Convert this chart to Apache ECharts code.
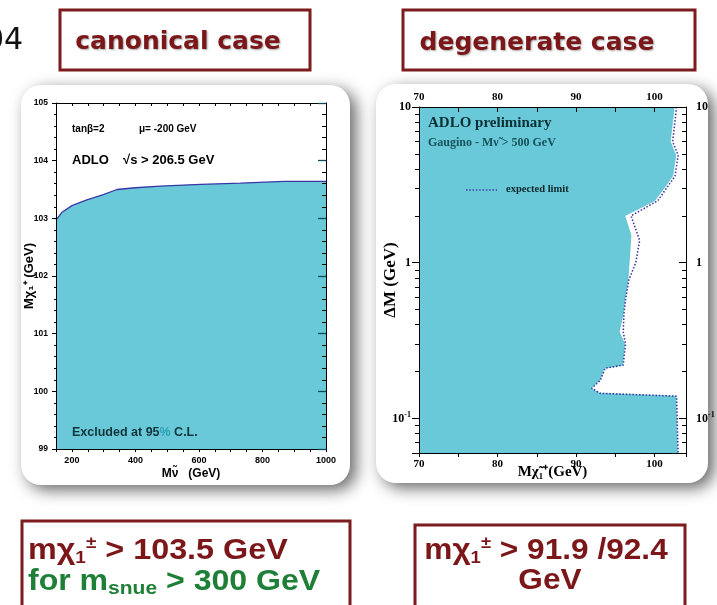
<!DOCTYPE html>
<html><head><meta charset="utf-8">
<script src="https://cdn.jsdelivr.net/npm/echarts@6/dist/echarts.min.js"></script>
<style>html,body{margin:0;padding:0;background:#fff;overflow:hidden}#c{width:717px;height:605px}</style>
</head><body><div id="c"></div>
<script>
// ---- canonical case: chargino mass limit vs sneutrino mass ----
const sneutrinoMass = [150, 168, 200, 247, 299, 342, 400, 478, 605, 731, 868, 1000];
const charginoLimit = [102.97, 103.10, 103.22, 103.32, 103.41, 103.50, 103.53, 103.56, 103.59, 103.61, 103.64, 103.64];
// ---- degenerate case: ΔM vs chargino mass ----
const deltaMObs = [10, 6.0, 4.9, 3.6, 3.1, 2.5, 2.0, 1.5, 0.77, 0.58, 0.47, 0.36, 0.30, 0.22, 0.21, 0.176, 0.156, 0.145, 0.139, 0.06];
const massObs   = [102.5, 102.0, 102.7, 102.3, 101.4, 100.0, 96.2, 97.0, 96.6, 96.2, 96.0, 95.5, 96.2, 95.9, 93.6, 93.0, 91.9, 93.0, 102.7, 102.9];
const deltaMExp = [10, 6.0, 4.9, 3.6, 3.1, 2.5, 2.0, 1.39, 1.0, 0.77, 0.58, 0.47, 0.36, 0.30, 0.22, 0.21, 0.176, 0.156, 0.145, 0.139, 0.06];
const massExp   = [102.8, 102.3, 103.0, 102.6, 101.7, 100.4, 97.0, 98.1, 97.6, 96.7, 96.3, 96.1, 96.0, 96.3, 96.0, 93.7, 93.1, 92.0, 93.1, 102.8, 103.0];
const leftXTicks = [200, 400, 600, 800, 1000];
const rightXTicks = [70, 80, 90, 100];

const FILL = '#69c9d9';
const MAROON = '#7b1719';
const GREEN = '#1e7f36';
const BOXFONT = 'bold 29px Liberation Sans';

const chart = echarts.init(document.getElementById('c'), null, {renderer: 'canvas'});

const sansB = {fontFamily: 'Liberation Sans, Arial', fontWeight: 'bold', color: '#000'};
const serifB = {fontFamily: 'Liberation Serif, Times New Roman', fontWeight: 'bold', color: '#000'};

function logLabel(v) {
  const l = Math.log10(v), e = Math.round(l);
  if (Math.abs(l - e) > 1e-6) return '';
  if (e < 0) return '{b|10}{s|' + e + '}';
  return '{b|' + Math.round(Math.pow(10, e)) + '}';
}
const logRich = {
  b: Object.assign({fontSize: 12}, serifB),
  s: Object.assign({fontSize: 8, verticalAlign: 'top', padding: [0, 0, 8, 0]}, serifB)
};

const obsPairs = massObs.map((m, i) => [m, deltaMObs[i]]);
const expPairs = massExp.map((m, i) => [m, deltaMExp[i]]);

const option = {
  animation: false,
  backgroundColor: '#fff',
  grid: [
    {left: 56, top: 103, width: 270, height: 346, outerBoundsMode: 'none', containLabel: false},
    {left: 419, top: 107, width: 267, height: 346, outerBoundsMode: 'none', containLabel: false}
  ],
  xAxis: [
    {gridIndex: 0, zlevel: 1, type: 'value', min: 150, max: 1000, interval: 50, position: 'bottom',
      axisLine: {lineStyle: {color: '#000', width: 1}},
      axisTick: {length: 3, lineStyle: {color: '#000'}},
      axisLabel: Object.assign({fontSize: 9, margin: 7, formatter: v => leftXTicks.includes(v) ? String(v) : ''}, sansB),
      splitLine: {show: false},
      name: 'M\u03BD\u0303   (GeV)', nameLocation: 'middle', nameGap: 19, nameMoveOverlap: false,
      nameTextStyle: Object.assign({fontSize: 12}, sansB)},
    {gridIndex: 0, zlevel: 1, type: 'value', min: 150, max: 1000, interval: 50, position: 'top',
      axisLine: {lineStyle: {color: '#000'}}, axisTick: {inside: true, length: 3, lineStyle: {color: '#000'}},
      axisLabel: {show: false}, splitLine: {show: false}},
    {gridIndex: 1, zlevel: 1, type: 'value', min: 70, max: 104, interval: 5, position: 'bottom',
      axisLine: {lineStyle: {color: '#000'}}, axisTick: {length: 4, lineStyle: {color: '#000'}},
      axisLabel: Object.assign({fontSize: 11, margin: 6, formatter: v => rightXTicks.includes(v) ? String(v) : ''}, serifB),
      splitLine: {show: false},
      name: 'M\u03C7\u0303\u2081\u207A(GeV)', nameLocation: 'middle', nameGap: 12, nameMoveOverlap: false,
      nameTextStyle: Object.assign({fontSize: 15}, serifB)},
    {gridIndex: 1, zlevel: 1, type: 'value', min: 70, max: 104, interval: 5, position: 'top',
      axisLine: {lineStyle: {color: '#000'}}, axisTick: {inside: true, length: 5, lineStyle: {color: '#000'}},
      axisLabel: Object.assign({fontSize: 11, margin: 4, formatter: v => rightXTicks.includes(v) ? String(v) : ''}, serifB),
      splitLine: {show: false}}
  ],
  yAxis: [
    {gridIndex: 0, zlevel: 1, type: 'value', min: 99, max: 105, interval: 1, position: 'left',
      axisLine: {show: true, lineStyle: {color: '#000'}},
      axisTick: {length: 4, lineStyle: {color: '#000'}},
      minorTick: {show: true, splitNumber: 5, length: 2, lineStyle: {color: '#000'}},
      axisLabel: Object.assign({fontSize: 8.5, margin: 8}, sansB),
      splitLine: {show: false},
      name: 'M\u03C7\u2081\u207A (GeV)', nameLocation: 'middle', nameGap: 20, nameRotate: 90, nameMoveOverlap: false,
      nameTextStyle: Object.assign({fontSize: 13}, sansB)},
    {gridIndex: 0, zlevel: 1, type: 'value', min: 99, max: 105, interval: 1, position: 'right',
      axisLine: {show: true, lineStyle: {color: '#000'}},
      axisTick: {show: true, inside: true, length: 8, lineStyle: {color: '#0d4a50', width: 1.3}},
      minorTick: {show: true, splitNumber: 5, length: 4, lineStyle: {color: '#000', width: 1}},
      axisLabel: {show: false}, splitLine: {show: false}},
    {gridIndex: 1, zlevel: 1, type: 'log', logBase: 10, min: 0.06, max: 10, position: 'left',
      axisLine: {show: true, lineStyle: {color: '#000'}},
      axisTick: {length: 7, lineStyle: {color: '#000'}},
      minorTick: {show: true, splitNumber: 9, length: 4, lineStyle: {color: '#000'}},
      axisLabel: {formatter: logLabel, rich: logRich, margin: 8},
      splitLine: {show: false},
      name: '\u0394M (GeV)', nameLocation: 'middle', nameGap: 20, nameRotate: 90, nameMoveOverlap: false,
      nameTextStyle: Object.assign({fontSize: 17}, serifB)},
    {gridIndex: 1, zlevel: 1, type: 'log', logBase: 10, min: 0.06, max: 10, position: 'right',
      axisLine: {show: true, lineStyle: {color: '#000'}},
      axisTick: {inside: true, length: 7, lineStyle: {color: '#000'}},
      minorTick: {show: true, splitNumber: 9, length: 4, lineStyle: {color: '#000'}},
      axisLabel: {formatter: logLabel, rich: logRich, margin: 10},
      splitLine: {show: false}}
  ],
  series: [
    {type: 'line', name: 'limit', xAxisIndex: 0, yAxisIndex: 0, z: 1,
      data: sneutrinoMass.map((x, i) => [x, charginoLimit[i]]),
      symbol: 'none', lineStyle: {color: '#3838a6', width: 1.3},
      areaStyle: {color: FILL, opacity: 1, origin: 'start'}},
    {type: 'custom', name: 'excluded', xAxisIndex: 2, yAxisIndex: 2, z: 1, clip: true,
      data: [[0, 0]],
      renderItem: function (params, api) {
        const pts = [api.coord([70, 10])].concat(obsPairs.map(p => api.coord(p))).concat([api.coord([70, 0.06])]);
        return {type: 'polygon', shape: {points: pts}, style: {fill: FILL, stroke: '#4fb8c8', lineWidth: 0.6}};
      }},
    {type: 'line', name: 'expected limit', xAxisIndex: 2, yAxisIndex: 2, z: 2,
      data: expPairs, symbol: 'none',
      lineStyle: {color: '#3a3aa8', width: 1.6, type: [1.5, 1.8]}}
  ],
  graphic: [
    // cards
    {type: 'rect', z: -20, shape: {x: 21, y: 85, width: 329, height: 400, r: 20},
      style: {fill: '#fff', shadowBlur: 16, shadowOffsetX: 6, shadowOffsetY: 5, shadowColor: 'rgba(0,0,0,0.6)'}},
    {type: 'rect', z: -20, shape: {x: 376, y: 84, width: 332, height: 399, r: 20},
      style: {fill: '#fff', shadowBlur: 16, shadowOffsetX: 6, shadowOffsetY: 5, shadowColor: 'rgba(0,0,0,0.6)'}},
    // partial glyphs cut at the slide edge
    {type: 'text', z: 5, style: {text: '04', x: -15, y: 41, verticalAlign: 'middle', font: '30px DejaVu Sans', fill: '#111'}},
    // title boxes
    {type: 'rect', z: 5, shape: {x: 60, y: 10, width: 250, height: 60}, style: {fill: '#fff', stroke: '#7c1c1e', lineWidth: 3}},
    {type: 'text', z: 6, style: {text: 'canonical case', x: 178, y: 42, align: 'center', verticalAlign: 'middle',
      font: 'bold 25px DejaVu Sans', fill: MAROON, textShadowColor: 'rgba(0,0,0,0.35)', textShadowBlur: 2, textShadowOffsetX: 1, textShadowOffsetY: 1}},
    {type: 'rect', z: 5, shape: {x: 403, y: 10, width: 292, height: 60}, style: {fill: '#fff', stroke: '#7c1c1e', lineWidth: 3}},
    {type: 'text', z: 6, style: {text: 'degenerate case', x: 537, y: 43, align: 'center', verticalAlign: 'middle',
      font: 'bold 25px DejaVu Sans', fill: MAROON, textShadowColor: 'rgba(0,0,0,0.35)', textShadowBlur: 2, textShadowOffsetX: 1, textShadowOffsetY: 1}},
    // left panel annotations
    {type: 'text', z: 6, style: {text: 'tan\u03B2=2', x: 72, y: 129, verticalAlign: 'middle', font: 'bold 10px Liberation Sans', fill: '#000'}},
    {type: 'text', z: 6, style: {text: '\u03BC= -200 GeV', x: 139, y: 129, verticalAlign: 'middle', font: 'bold 10px Liberation Sans', fill: '#000'}},
    {type: 'text', z: 6, style: {text: 'ADLO', x: 72, y: 160, verticalAlign: 'middle', font: 'bold 13px Liberation Sans', fill: '#000'}},
    {type: 'text', z: 6, style: {text: '\u221As > 206.5 GeV', x: 123, y: 160, verticalAlign: 'middle', font: 'bold 13px Liberation Sans', fill: '#000'}},
    {type: 'text', z: 6, style: {text: '{a|Excluded at 95}{p|%}{a| C.L.}', x: 72, y: 433, verticalAlign: 'middle',
      rich: {a: {font: 'bold 12.5px Liberation Sans', fill: '#10353a'}, p: {font: 'bold 12.5px Liberation Sans', fill: '#2b9fb0'}}}},
    // right panel annotations
    {type: 'text', z: 6, style: {text: 'ADLO preliminary', x: 428, y: 123, verticalAlign: 'middle', font: 'bold 15px Liberation Serif', fill: '#0b3035'}},
    {type: 'text', z: 6, style: {text: 'Gaugino - M\u03BD\u0303 > 500 GeV', x: 428, y: 143, verticalAlign: 'middle', font: 'bold 12px Liberation Serif', fill: '#17525a'}},
    {type: 'line', z: 6, shape: {x1: 466, y1: 190, x2: 497, y2: 190}, style: {stroke: '#3a3aa8', lineWidth: 1.6, lineDash: [1.5, 1.8]}},
    {type: 'text', z: 6, style: {text: 'expected limit', x: 506, y: 189, verticalAlign: 'middle', font: 'bold 10.5px Liberation Serif', fill: '#10282b'}},
    // bottom result boxes
    {type: 'rect', z: 5, shape: {x: 22, y: 521, width: 328, height: 100}, style: {fill: '#fff', stroke: '#7c1c1e', lineWidth: 3}},
    {type: 'text', z: 6, x: 28, y: 551, scaleX: 1.115,
      style: {text: '{a|m\u03C7}{sb|1}{sp|\u00B1}{a| > 103.5 GeV}', x: 0, y: 0, verticalAlign: 'middle',
      rich: {
        a: {font: BOXFONT, fill: MAROON, lineHeight: 32},
        sb: {font: 'bold 17px Liberation Sans', fill: MAROON, verticalAlign: 'bottom', lineHeight: 17},
        sp: {font: 'bold 17px Liberation Sans', fill: MAROON, verticalAlign: 'top', lineHeight: 17}
      }}},
    {type: 'text', z: 6, x: 28, y: 582, scaleX: 1.105,
      style: {text: '{a|for m}{sb|snue}{a| > 300 GeV}', x: 0, y: 0, verticalAlign: 'middle',
      rich: {
        a: {font: BOXFONT, fill: GREEN, lineHeight: 32},
        sb: {font: 'bold 19px Liberation Sans', fill: GREEN, verticalAlign: 'bottom', lineHeight: 19}
      }}},
    {type: 'rect', z: 5, shape: {x: 415, y: 525, width: 270, height: 100}, style: {fill: '#fff', stroke: '#7c1c1e', lineWidth: 3}},
    {type: 'text', z: 6, x: 546, y: 551, scaleX: 1.09,
      style: {text: '{a|m\u03C7}{sb|1}{sp|\u00B1}{a| > 91.9 /92.4}', x: 0, y: 0, align: 'center', verticalAlign: 'middle',
      rich: {
        a: {font: BOXFONT, fill: MAROON, lineHeight: 32},
        sb: {font: 'bold 17px Liberation Sans', fill: MAROON, verticalAlign: 'bottom', lineHeight: 17},
        sp: {font: 'bold 17px Liberation Sans', fill: MAROON, verticalAlign: 'top', lineHeight: 17}
      }}},
    {type: 'text', z: 6, x: 550, y: 581, scaleX: 1.09,
      style: {text: 'GeV', x: 0, y: 0, align: 'center', verticalAlign: 'middle', font: BOXFONT, fill: MAROON}}
  ]
};
chart.setOption(option);
</script></body></html>
